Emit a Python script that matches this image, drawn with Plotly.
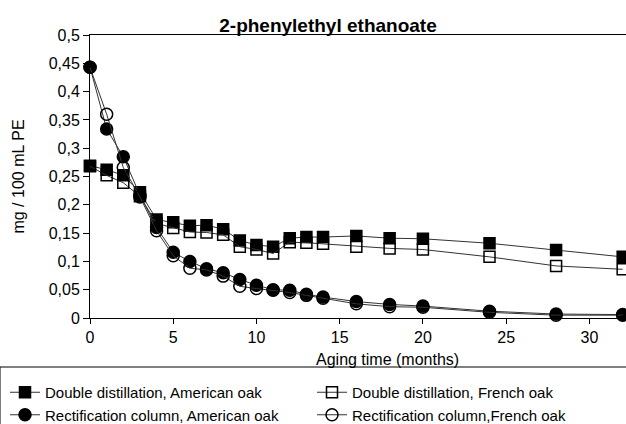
import plotly.graph_objects as go

months = [0, 1, 2, 3, 4, 5, 6, 7, 8, 9, 10, 11, 12, 13, 14, 16, 18, 20, 24, 28, 32]
dd_american = [0.269, 0.262, 0.252, 0.222, 0.174, 0.169, 0.163, 0.164, 0.157, 0.137, 0.129, 0.126, 0.141, 0.143, 0.143, 0.145, 0.141, 0.140, 0.132, 0.120, 0.108]
dd_french = [0.268, 0.252, 0.239, 0.215, 0.167, 0.159, 0.152, 0.151, 0.147, 0.126, 0.121, 0.114, 0.134, 0.133, 0.131, 0.126, 0.123, 0.121, 0.108, 0.092, 0.086]
rc_american = [0.443, 0.334, 0.285, 0.217, 0.160, 0.116, 0.100, 0.087, 0.080, 0.068, 0.058, 0.050, 0.049, 0.042, 0.037, 0.029, 0.024, 0.021, 0.012, 0.007, 0.006]
rc_french = [0.443, 0.360, 0.266, 0.214, 0.154, 0.110, 0.088, 0.085, 0.074, 0.056, 0.052, 0.049, 0.045, 0.040, 0.035, 0.025, 0.020, 0.019, 0.010, 0.005, 0.005]

names = ["Double distillation, American oak", "Double distillation, French oak",
         "Rectification column, American oak", "Rectification column,French oak"]
series = [dd_american, dd_french, rc_american, rc_french]
symbols = ["square", "square-open", "circle", "circle-open"]

ytick_vals = [0, 0.05, 0.1, 0.15, 0.2, 0.25, 0.3, 0.35, 0.4, 0.45, 0.5]
ytick_text = ["0", "0,05", "0,1", "0,15", "0,2", "0,25", "0,3", "0,35", "0,4", "0,45", "0,5"]
xtick_vals = [0, 5, 10, 15, 20, 25, 30]
x_title = "Aging time (months)"
y_title = "mg / 100 mL PE"

fig = go.Figure()
for name, vals, sym in zip(names, series, symbols):
    fig.add_trace(go.Scatter(
        x=months, y=vals, name=name, mode="lines+markers",
        line=dict(color="#333333", width=1),
        marker=dict(symbol=sym, size=11 if "square" in sym else 12, color="black",
                    line=dict(color="black", width=1.5)),
        cliponaxis=False,
    ))

# plot area geometry (pixels) used to place legend box / labels in paper coords
L, T, W, H = 90, 35, 536, 283

font = "Liberation Sans, Arial, sans-serif"
fig.update_layout(
    width=626, height=424,
    margin=dict(l=L, r=0, t=T, b=424 - T - H, autoexpand=False),
    paper_bgcolor="white", plot_bgcolor="white",
    font=dict(family=font, size=16, color="black"),
    title=dict(text="<b>2-phenylethyl ethanoate</b>", x=328/626, xanchor="center",
               y=1 - 25/424, yanchor="middle", font=dict(size=19)),
    showlegend=True,
    legend=dict(orientation="h", x=(5 - L)/W, xanchor="left", y=(T + H - 376)/H, yanchor="top",
                entrywidth=262, entrywidthmode="pixels",
                borderwidth=0, font=dict(size=15),
                tracegroupgap=0, itemwidth=30),
    shapes=[dict(type="rect", xref="paper", yref="paper",
                 x0=-L/W, x1=(626 - L + 5)/W, y0=(T + H - 367)/H, y1=(T + H - 430)/H,
                 line=dict(color="black", width=1), fillcolor="rgba(0,0,0,0)")],
    annotations=[dict(text=x_title, xref="paper", yref="paper",
                      x=(387 - L)/W, y=(T + H - 359)/H, xanchor="center", yanchor="middle",
                      showarrow=False, font=dict(size=16))],
    xaxis=dict(range=[0, 32.2], tickvals=xtick_vals, showline=True, linecolor="black",
               linewidth=1, mirror=True, ticks="outside", ticklen=5, tickcolor="black",
               showgrid=False, zeroline=False),
    yaxis=dict(range=[0, 0.5], tickvals=ytick_vals, ticktext=ytick_text, showline=True,
               linecolor="black", linewidth=1, ticks="outside", ticklen=6, tickcolor="black",
               showgrid=False, zeroline=False,
               title=dict(text=y_title, standoff=20, font=dict(size=16))),
)

fig.write_html("out.html")
